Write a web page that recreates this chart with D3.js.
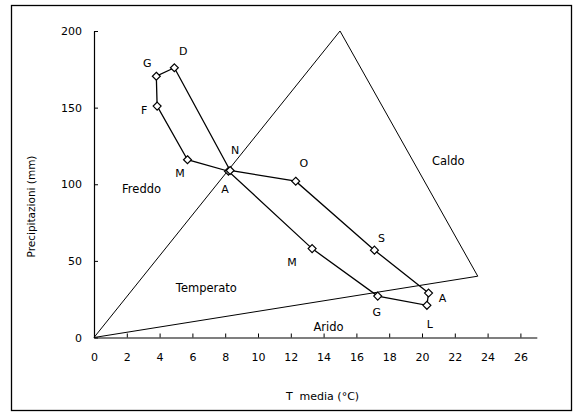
<!DOCTYPE html>
<html>
<head>
<meta charset="utf-8">
<script src="https://cdn.jsdelivr.net/npm/d3@7"></script>
<style>
  html, body { margin: 0; padding: 0; background: #fff; }
  svg { display: block; }
  text { font-family: "DejaVu Sans", Verdana, sans-serif; fill: #000; }
</style>
</head>
<body>
<svg id="chart" width="577" height="412"></svg>
<script>
// ---- data ----
const months = ["G", "F", "M", "A", "M", "G", "L", "A", "S", "O", "N", "D"];
const temperature = [3.8, 3.85, 5.7, 8.2, 13.3, 17.3, 20.3, 20.4, 17.1, 12.3, 8.3, 4.9];
const precipitation = [170.5, 151, 116, 108.5, 58, 27, 21, 29, 57, 102, 109, 176];
const triangleT = [0, 15, 23.4, 0];
const triangleP = [0, 200, 40, 0];
const zoneNames = ["Freddo", "Caldo", "Temperato", "Arido"];
const zoneT = [2.9, 21.6, 6.85, 14.3];
const zoneP = [96.5, 115, 32, 6.5];
const xTicks = [0, 2, 4, 6, 8, 10, 12, 14, 16, 18, 20, 22, 24, 26];
const yTicks = [0, 50, 100, 150, 200];
const xTitle = "T  media (°C)";
const yTitle = "Precipitazioni (mm)";

// ---- layout (label offsets in pixels) ----
const labelDx = [-9, -13, -7.5, -3.5, -20, -1, 3, 14, 7, 8, 5, 9];
const labelDy = [-12, 4.5, 14.5, 19, 14, 17, 20, 6, -11, -17, -19, -16];

const svg = d3.select("#chart");
const x = d3.scaleLinear().domain([0, 27]).range([94, 536.8]);
const y = d3.scaleLinear().domain([0, 200]).range([337.5, 31]);

// outer frame
svg.append("rect").attr("x", 11.5).attr("y", 5.5).attr("width", 560).attr("height", 405)
  .attr("fill", "none").attr("stroke", "#000").attr("stroke-width", 1.3);

// axes
const xAxis = d3.axisBottom(x).tickValues(xTicks).tickSizeInner(-4).tickSizeOuter(0).tickPadding(16);
const gx = svg.append("g").attr("transform", `translate(0,${y(0)})`).call(xAxis);
const yAxis = d3.axisLeft(y).tickValues(yTicks).tickSizeInner(-4).tickSizeOuter(0).tickPadding(12);
const gy = svg.append("g").attr("transform", `translate(${x(0)},0)`).call(yAxis);
[gx, gy].forEach(g => {
  g.select(".domain").attr("stroke", "#000").attr("stroke-width", 1.2);
  g.selectAll(".tick line").attr("stroke", "#000");
  g.selectAll(".tick text").attr("font-family", "DejaVu Sans").attr("font-size", 11).attr("fill", "#000");
});

// axis titles
svg.append("text").attr("x", 322.5).attr("y", 397).attr("text-anchor", "middle")
  .attr("dominant-baseline", "middle").attr("font-size", 11).style("white-space", "pre").text(xTitle);
svg.append("text").attr("transform", "translate(32,206.5) rotate(-90)").attr("text-anchor", "middle")
  .attr("dominant-baseline", "middle").attr("font-size", 10.5).text(yTitle);

// triangle
const tri = triangleT.map((t, i) => [x(t), y(triangleP[i])]);
svg.append("path").attr("d", d3.line()(tri)).attr("fill", "none").attr("stroke", "#000").attr("stroke-width", 1);

// zone labels
svg.selectAll("text.zone").data(zoneNames).join("text").attr("class", "zone")
  .attr("x", (d, i) => x(zoneT[i])).attr("y", (d, i) => y(zoneP[i]))
  .attr("text-anchor", "middle").attr("dominant-baseline", "middle").attr("font-size", 11.5)
  .text(d => d);

// climograph loop
const pts = temperature.map((t, i) => [x(t), y(precipitation[i])]);
svg.append("path").attr("d", d3.line().curve(d3.curveLinearClosed)(pts))
  .attr("fill", "none").attr("stroke", "#000").attr("stroke-width", 1.3);

// markers
svg.selectAll("path.mk").data(pts).join("path").attr("class", "mk")
  .attr("d", d3.symbol(d3.symbolDiamond2, 40)())
  .attr("transform", d => `translate(${d[0]},${d[1]})`)
  .attr("fill", "#fff").attr("stroke", "#000").attr("stroke-width", 1.2);

// month labels
svg.selectAll("text.mo").data(months).join("text").attr("class", "mo")
  .attr("x", (d, i) => pts[i][0] + labelDx[i]).attr("y", (d, i) => pts[i][1] + labelDy[i])
  .attr("text-anchor", "middle").attr("dominant-baseline", "middle").attr("font-size", 11)
  .text(d => d);
</script>
</body>
</html>
